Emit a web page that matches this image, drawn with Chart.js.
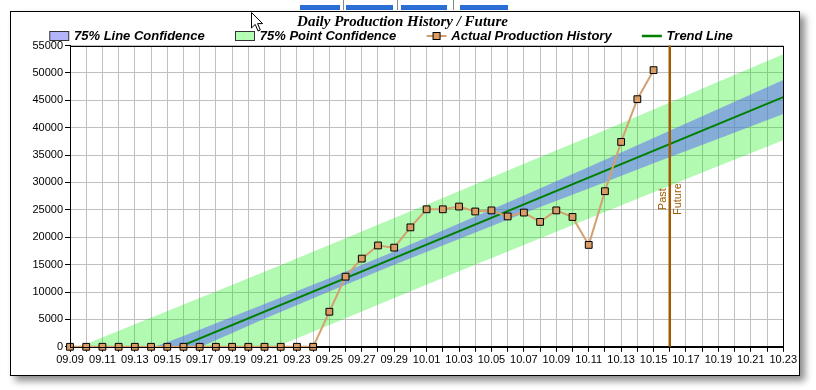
<!DOCTYPE html>
<html>
<head>
<meta charset="utf-8">
<script src="https://cdn.jsdelivr.net/npm/chart.js@4.4.1/dist/chart.umd.min.js"></script>
<style>
  html, body { margin:0; padding:0; background:#fff; width:816px; height:390px; overflow:hidden; }
  #frame { position:absolute; left:10px; top:11px; width:788px; height:363px; border:1px solid #000; background:#fff;
           box-shadow:5px 5px 7px rgba(0,0,0,0.45); }
  #frame canvas { display:block; }
  .tab { position:absolute; top:5px; height:5px; background:#2b6fd6; }
  .sep { position:absolute; top:0px; height:10px; width:1px; background:#888; }
  #cursor { position:absolute; left:251px; top:12px; }
</style>
</head>
<body>
<div class="tab" style="left:300px;width:40px"></div>
<div class="sep" style="left:343px"></div>
<div class="tab" style="left:346px;width:47px"></div>
<div class="sep" style="left:397px"></div>
<div class="tab" style="left:401px;width:46px"></div>
<div class="sep" style="left:453px"></div>
<div class="tab" style="left:460px;width:48px"></div>
<div id="frame"><canvas id="c" width="788" height="363"></canvas></div>
<svg id="cursor" width="14" height="21" viewBox="0 0 14 21">
  <path d="M0.5 0.5 L0.5 16 L4.2 12.4 L7 19 L9.3 18 L6.6 11.6 L11.6 11.6 Z" fill="#fff" stroke="#000" stroke-width="1"/>
</svg>
<script>
// ---- Data ----
const dayLabels = ['09.09','09.10','09.11','09.12','09.13','09.14','09.15','09.16','09.17','09.18',
  '09.19','09.20','09.21','09.22','09.23','09.24','09.25','09.26','09.27','09.28','09.29','09.30',
  '10.01','10.02','10.03','10.04','10.05','10.06','10.07','10.08','10.09','10.10','10.11','10.12',
  '10.13','10.14','10.15','10.16','10.17','10.18','10.19','10.20','10.21','10.22','10.23'];

// Actual production history, one value per day starting 09.09 (ends 10.15)
const actualValues = [0,0,0,0,0,0,0,0,0,0,0,0,0,0,0,0,
  6400,12800,16100,18500,18100,21800,25100,25100,25600,24700,24900,23800,24500,22800,24900,23700,
  18600,28400,37400,45200,50500];

// Confidence bands read at every 4th day
const bandDates = ['09.09','09.13','09.17','09.21','09.25','09.29','10.03','10.07','10.11','10.15','10.19','10.23'];
const pointConfUpper = [-700, 4100, 8900, 13700, 18600, 23500, 28400, 33400, 38300, 43300, 48400, 53400];
const pointConfLower = [-15800, -10800, -5900, -900, 4000, 8900, 13800, 18600, 23400, 28200, 33000, 37700];
const lineConfUpper  = [-6000, -1400, 3100, 7800, 12500, 17400, 22500, 27600, 32800, 38100, 43400, 48700];
const lineConfLower  = [-10600, -5300, -100, 5100, 10100, 15000, 19700, 24400, 28900, 33500, 38000, 42500];

// Trend line end points
const trendDates  = ['09.09','10.23'];
const trendValues = [-8270, 45580];

const dividerDate = '10.16';
const dividerLabels = ['Past','Future'];

const legendNames = ['75% Line Confidence','75% Point Confidence','Actual Production History','Trend Line'];
const chartTitle = 'Daily Production History / Future';

// ---- Styles ----
const C_POINT_BAND = 'rgba(0,235,0,0.30)';
const C_LINE_BAND  = 'rgba(95,110,245,0.55)';
const C_TREND = '#008000';
const C_ACTUAL = '#D4A070';
const C_MARKER = '#D89C64';
const C_DIVIDER = '#A05A00';

function pts(xs, ys) { return xs.map((x, i) => ({ x: x, y: ys[i] })); }

// legend icon: 60px wide canvas, icon itself drawn at offset 36..56
const IC = 36;
function icon(draw) {
  const cv = document.createElement('canvas');
  cv.width = 60; cv.height = 10;
  const g = cv.getContext('2d');
  g.translate(IC, 0);
  draw(g);
  return cv;
}
const legendIcons = [
  icon(g => { g.fillStyle = '#B4B4FA'; g.fillRect(0.5, 0.5, 19, 9); g.strokeStyle = '#333'; g.lineWidth = 1; g.strokeRect(0.5, 0.5, 19, 9); }),
  icon(g => { g.fillStyle = '#B4FFB4'; g.fillRect(0.5, 0.5, 19, 9); g.strokeStyle = '#333'; g.lineWidth = 1; g.strokeRect(0.5, 0.5, 19, 9); }),
  icon(g => { g.strokeStyle = C_ACTUAL; g.lineWidth = 2; g.beginPath(); g.moveTo(0, 5); g.lineTo(20, 5); g.stroke();
              g.fillStyle = C_MARKER; g.fillRect(6.5, 1.5, 7, 7); g.strokeStyle = '#000'; g.lineWidth = 1; g.strokeRect(6.5, 1.5, 7, 7); }),
  icon(g => { g.strokeStyle = C_TREND; g.lineWidth = 2.5; g.beginPath(); g.moveTo(0, 5); g.lineTo(20, 5); g.stroke(); })
];

const overlay = {
  id: 'overlay',
  afterDatasetsDraw(chart) {
    const { ctx, chartArea: a, scales: { x } } = chart;
    ctx.save();
    // plot frame
    ctx.strokeStyle = '#000'; ctx.lineWidth = 1;
    ctx.strokeRect(Math.round(a.left) + 0.5, Math.round(a.top) + 0.5, Math.round(a.right - a.left), Math.round(a.bottom - a.top));
    // past / future divider
    const dx = x.getPixelForValue(dayLabels.indexOf(dividerDate));
    ctx.strokeStyle = C_DIVIDER; ctx.lineWidth = 2.5;
    ctx.beginPath(); ctx.moveTo(dx, a.top); ctx.lineTo(dx, a.bottom); ctx.stroke();
    ctx.fillStyle = C_DIVIDER;
    ctx.font = '11px "Liberation Sans", Arial, sans-serif';
    ctx.textAlign = 'center'; ctx.textBaseline = 'middle';
    const yc = (a.top + a.bottom) / 2 + 3;
    [[dividerLabels[0], -6.5], [dividerLabels[1], 8]].forEach(([t, off]) => {
      ctx.save(); ctx.translate(dx + off, yc); ctx.rotate(-Math.PI / 2); ctx.fillText(t, 0, 0); ctx.restore();
    });
    ctx.restore();
  }
};

const tickFont = { family: '"Liberation Sans", Arial, sans-serif', size: 11 };

new Chart(document.getElementById('c'), {
  type: 'line',
  data: {
    labels: dayLabels,
    datasets: [
      { label: 'pu', data: pts(bandDates, pointConfUpper), borderWidth: 0, pointRadius: 0, fill: '+1', backgroundColor: C_POINT_BAND, order: 3 },
      { label: 'pl', data: pts(bandDates, pointConfLower), borderWidth: 0, pointRadius: 0, fill: false, order: 3 },
      { label: 'lu', data: pts(bandDates, lineConfUpper), borderWidth: 0, pointRadius: 0, fill: '+1', backgroundColor: C_LINE_BAND, order: 2 },
      { label: 'll', data: pts(bandDates, lineConfLower), borderWidth: 0, pointRadius: 0, fill: false, order: 2 },
      { label: 'trend', data: pts(trendDates, trendValues), borderColor: C_TREND, borderWidth: 2, pointRadius: 0, fill: false, order: 1 },
      { label: 'actual', data: actualValues, borderColor: C_ACTUAL, borderWidth: 2, pointStyle: 'rect', pointRadius: 4.8,
        pointBackgroundColor: C_MARKER, pointBorderColor: '#000', pointBorderWidth: 1, fill: false, order: 0, clip: false }
    ]
  },
  options: {
    responsive: false,
    animation: false,
    events: [],
    layout: { padding: { left: 8, right: 13, top: 0, bottom: 6 } },
    plugins: {
      title: { display: true, text: chartTitle, color: '#000', padding: { top: 1, bottom: -1.5 },
               font: { family: '"Liberation Serif", "Times New Roman", serif', size: 15, style: 'italic', weight: 'bold' } },
      legend: {
        display: true, position: 'top', align: 'start', maxHeight: 16,
        labels: {
          usePointStyle: true, pointStyleWidth: 48.5, boxHeight: 9, padding: 0, color: '#000',
          font: { family: '"Liberation Sans", Arial, sans-serif', size: 13, style: 'italic', weight: 'bold' },
          generateLabels: () => legendNames.map((n, i) => ({ text: n, pointStyle: legendIcons[i], fillStyle: 'transparent',
              strokeStyle: 'transparent', lineWidth: 0, hidden: false, datasetIndex: i }))
        }
      },
      tooltip: { enabled: false }
    },
    scales: {
      x: {
        type: 'category', offset: false,
        grid: { color: '#C0C0C0', lineWidth: 1, tickLength: 5, tickColor: '#000', offset: false },
        border: { color: '#000', width: 1 },
        ticks: { autoSkip: false, maxRotation: 0, minRotation: 0, padding: 2, color: '#000', font: tickFont,
                 callback: function (v, i) { return i % 2 === 0 ? dayLabels[i] : ''; } }
      },
      y: {
        min: 0, max: 55000,
        afterFit: s => { s.width = 51; },
        grid: { color: '#C0C0C0', lineWidth: 1, tickLength: 5, tickColor: '#000' },
        border: { color: '#000', width: 1 },
        ticks: { stepSize: 5000, padding: 2, color: '#000', font: tickFont, callback: v => String(v) }
      }
    }
  },
  plugins: [overlay]
});
</script>
</body>
</html>
